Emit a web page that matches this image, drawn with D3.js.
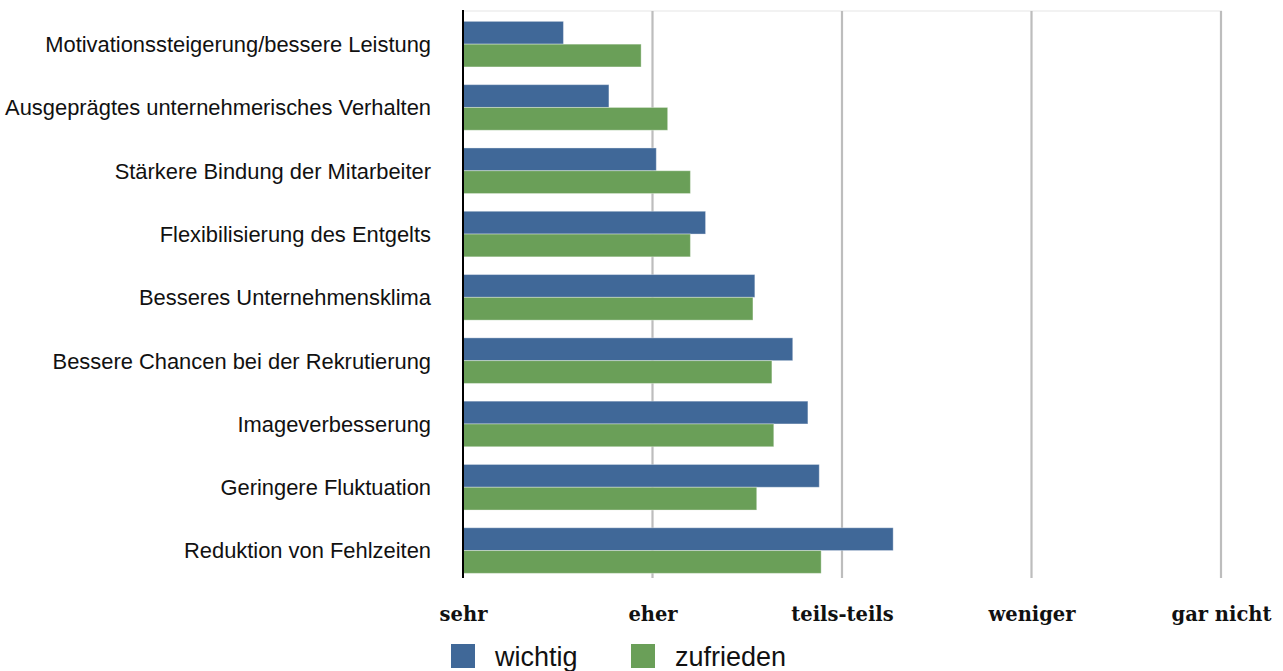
<!DOCTYPE html>
<html>
<head>
<meta charset="utf-8">
<script src="https://cdn.jsdelivr.net/npm/d3@7"></script>
<style>
  html, body { margin: 0; padding: 0; background: #fff; }
  svg { display: block; }
</style>
</head>
<body>
<div id="chart"></div>
<script>
// Categories from top to bottom
const categories = [
  'Motivationssteigerung/bessere Leistung',
  'Ausgeprägtes unternehmerisches Verhalten',
  'Stärkere Bindung der Mitarbeiter',
  'Flexibilisierung des Entgelts',
  'Besseres Unternehmensklima',
  'Bessere Chancen bei der Rekrutierung',
  'Imageverbesserung',
  'Geringere Fluktuation',
  'Reduktion von Fehlzeiten'
];

// 1 = sehr ... 5 = gar nicht
const wichtig = [1.53, 1.77, 2.02, 2.28, 2.54, 2.74, 2.82, 2.88, 3.27];
const zufrieden = [1.94, 2.08, 2.20, 2.20, 2.53, 2.63, 2.64, 2.55, 2.89];

const tickValues = [1, 2, 3, 4, 5];
const tickLabels = ['sehr', 'eher', 'teils-teils', 'weniger', 'gar nicht'];

const seriesNames = ['wichtig', 'zufrieden'];
const colors = ['#406898', '#6a9f58'];

const width = 1283;
const height = 671;

const svg = d3.select('#chart').append('svg')
  .attr('width', width)
  .attr('height', height);

const x = d3.scaleLinear()
  .domain([1, 5])
  .range([463, 1221]);

const y = d3.scaleBand()
  .domain(categories)
  .range([12.5, 582.2])
  .paddingInner(0.28)
  .paddingOuter(0.14);

const ySub = d3.scaleBand()
  .domain(seriesNames)
  .range([0, y.bandwidth()]);

const plotTop = 11;
const plotBottom = 578;

// top border line
svg.append('line')
  .attr('x1', x(1)).attr('x2', x(5) + 1)
  .attr('y1', plotTop).attr('y2', plotTop)
  .attr('stroke', '#eeeeee')
  .attr('stroke-width', 1.5);

// vertical gridlines
svg.append('g')
  .selectAll('line')
  .data(tickValues.slice(1))
  .join('line')
  .attr('x1', d => x(d)).attr('x2', d => x(d))
  .attr('y1', plotTop).attr('y2', plotBottom)
  .attr('stroke', '#bdbdbd')
  .attr('stroke-width', 2.2);

// bars
const groups = svg.append('g')
  .selectAll('g')
  .data(categories)
  .join('g')
  .attr('transform', d => `translate(0,${y(d)})`);

groups.selectAll('rect')
  .data((d, i) => [
    { key: 'wichtig', value: wichtig[i] },
    { key: 'zufrieden', value: zufrieden[i] }
  ])
  .join('rect')
  .attr('x', x(1))
  .attr('y', d => ySub(d.key))
  .attr('width', d => x(d.value) - x(1))
  .attr('height', ySub.bandwidth())
  .attr('fill', (d, i) => colors[i])
  .attr('stroke', 'rgba(255,255,255,0.35)')
  .attr('stroke-width', 1);

// y axis line
svg.append('line')
  .attr('x1', x(1)).attr('x2', x(1))
  .attr('y1', plotTop - 1).attr('y2', plotBottom)
  .attr('stroke', '#000')
  .attr('stroke-width', 2);

// category labels
svg.append('g')
  .selectAll('text')
  .data(categories)
  .join('text')
  .attr('x', 431)
  .attr('y', d => y(d) + y.bandwidth() / 2)
  .attr('dy', '0.36em')
  .attr('text-anchor', 'end')
  .attr('font-family', 'Liberation Sans, Arial, Helvetica, sans-serif')
  .attr('font-size', 21.9)
  .attr('fill', '#111')
  .text(d => d);

// x tick labels
const xAxis = d3.axisBottom(x)
  .tickValues(tickValues)
  .tickFormat((d, i) => tickLabels[i])
  .tickSize(0)
  .tickPadding(0);

const xg = svg.append('g')
  .attr('transform', `translate(0,621)`)
  .call(xAxis);
xg.select('.domain').remove();
xg.selectAll('text')
  .attr('dy', 0)
  .attr('font-family', 'DejaVu Serif, serif')
  .attr('font-weight', 'bold')
  .attr('font-size', 19.5)
  .attr('fill', '#111');

// legend
const legend = svg.append('g')
  .selectAll('g')
  .data(seriesNames)
  .join('g')
  .attr('transform', (d, i) => `translate(${[451, 631][i]},644)`);

legend.append('rect')
  .attr('width', 24)
  .attr('height', 24)
  .attr('fill', (d, i) => colors[i]);

legend.append('text')
  .attr('x', 44)
  .attr('y', 22)
  .attr('font-family', 'Liberation Sans, Arial, Helvetica, sans-serif')
  .attr('font-size', 27)
  .attr('fill', '#111')
  .text(d => d);
</script>
</body>
</html>
